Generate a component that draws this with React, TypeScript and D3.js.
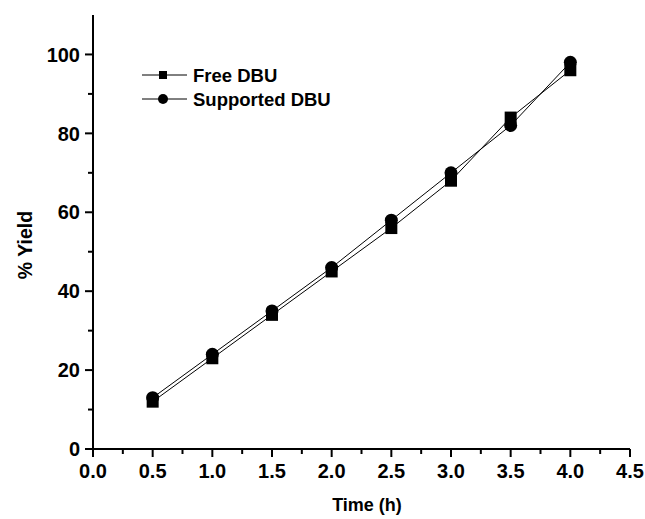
import React from "react";
import * as d3 from "d3";

const times = [0.5, 1.0, 1.5, 2.0, 2.5, 3.0, 3.5, 4.0];
const freeDBU = [12, 23, 34, 45, 56, 68, 84, 96];
const supportedDBU = [13, 24, 35, 46, 58, 70, 82, 98];
const xTicks = [0, 0.5, 1.0, 1.5, 2.0, 2.5, 3.0, 3.5, 4.0, 4.5];
const yTicks = [0, 20, 40, 60, 80, 100];
const seriesNames = ["Free DBU", "Supported DBU"];

const W = 645, H = 519;
const M = { left: 93, right: 15, top: 15, bottom: 70 };

export default function App() {
  const x = d3.scaleLinear().domain([0, 4.5]).range([M.left, W - M.right]);
  const y = d3.scaleLinear().domain([0, 110]).range([H - M.bottom, M.top]);
  const line = d3.line<number>().x((_, i) => x(times[i])).y((d) => y(d));
  const font = "'Liberation Sans', Arial, sans-serif";
  const minorX = d3.range(0.25, 4.5, 0.5);
  const minorY = d3.range(10, 110, 20);
  const x0 = x(0), y0 = y(0);
  const sq = 12, r = 6.5;
  const lsq = 8, lr = 5;

  return (
    <svg width={W} height={H} style={{ position: "absolute", left: 0, top: 0 }} fontFamily={font}>
      <rect width={W} height={H} fill="white" />
      {/* series lines */}
      <path d={line(freeDBU) || ""} fill="none" stroke="black" strokeWidth={1} />
      <path d={line(supportedDBU) || ""} fill="none" stroke="black" strokeWidth={1} />
      {freeDBU.map((v, i) => (
        <rect key={"s" + i} x={x(times[i]) - sq / 2} y={y(v) - sq / 2} width={sq} height={sq} fill="black" />
      ))}
      {supportedDBU.map((v, i) => (
        <circle key={"c" + i} cx={x(times[i])} cy={y(v)} r={r} fill="black" />
      ))}
      {/* axes */}
      <line x1={x0} x2={x0} y1={M.top} y2={y0 + 1} stroke="black" strokeWidth={2} />
      <line x1={x0 - 1} x2={x(4.5)} y1={y0} y2={y0} stroke="black" strokeWidth={2} />
      {yTicks.map((t) => (
        <g key={"yt" + t}>
          <line x1={x0 - 8} x2={x0} y1={y(t)} y2={y(t)} stroke="black" strokeWidth={2} />
          <text x={x0 - 13} y={y(t)} dy="0.36em" textAnchor="end" fontSize={20} fontWeight="bold">{t}</text>
        </g>
      ))}
      {minorY.map((t) => (
        <line key={"ym" + t} x1={x0 - 5} x2={x0} y1={y(t)} y2={y(t)} stroke="black" strokeWidth={2} />
      ))}
      {xTicks.map((t) => (
        <g key={"xt" + t}>
          <line x1={x(t)} x2={x(t)} y1={y0} y2={y0 + 8} stroke="black" strokeWidth={2} />
          <text x={x(t)} y={y0 + 28.5} textAnchor="middle" fontSize={20} fontWeight="bold">{t.toFixed(1)}</text>
        </g>
      ))}
      {minorX.map((t) => (
        <line key={"xm" + t} x1={x(t)} x2={x(t)} y1={y0} y2={y0 + 5} stroke="black" strokeWidth={2} />
      ))}
      {/* axis titles */}
      <text x={367} y={510.5} textAnchor="middle" fontSize={18} fontWeight="bold">Time (h)</text>
      <text transform="translate(31.5,245) rotate(-90)" textAnchor="middle" fontSize={19.5} fontWeight="bold">% Yield</text>
      {/* legend */}
      <g>
        <line x1={142} x2={187} y1={75} y2={75} stroke="black" strokeWidth={1} />
        <rect x={163 - lsq / 2} y={75 - lsq / 2} width={lsq} height={lsq} fill="black" />
        <text x={193} y={75} dy="0.36em" fontSize={18.5} fontWeight="bold">{seriesNames[0]}</text>
        <line x1={142} x2={187} y1={99} y2={99} stroke="black" strokeWidth={1} />
        <circle cx={163} cy={99} r={lr} fill="black" />
        <text x={193} y={99} dy="0.36em" fontSize={18.5} fontWeight="bold">{seriesNames[1]}</text>
      </g>
    </svg>
  );
}
